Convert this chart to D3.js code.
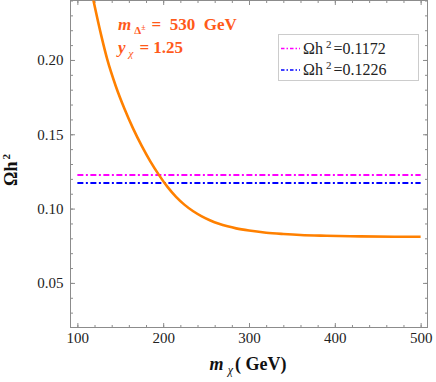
<!DOCTYPE html>
<html>
<head>
<meta charset="utf-8">
<script src="https://cdn.jsdelivr.net/npm/d3@7"></script>
<style>
  body { margin: 0; background: #fff; }
  svg text { font-family: "Liberation Serif", "DejaVu Serif", "Times New Roman", serif; }
</style>
</head>
<body>
<div id="chart"></div>
<script>
// relic density vs dark matter mass
const massX = [118, 128, 135, 145, 155, 165, 175, 185, 195, 205, 215, 225, 235, 245, 255,
  265, 275, 285, 300, 320, 340, 360, 390, 430, 470, 500];
const omegaH2 = [0.2420, 0.2160, 0.2000, 0.1820, 0.1670, 0.1538, 0.1422, 0.1318, 0.1227,
  0.1146, 0.1079, 0.1025, 0.0982, 0.0948, 0.0920, 0.0898, 0.0881, 0.0867, 0.0852, 0.0838,
  0.0829, 0.0822, 0.0817, 0.0813, 0.0811, 0.0811];

// horizontal reference lines (as drawn) and their legend text
const levelValues = [0.1226, 0.1172];
const levelColors = ["#ff00ff", "#0000ff"];
const legendValues = ["0.1172", "0.1226"];
const levelRange = [100, 500];

const xTicks = [100, 200, 300, 400, 500];
const yTicks = [0.05, 0.10, 0.15, 0.20];
const xMinor = d3.range(100, 501, 20);
const yMinor = d3.range(0.03, 0.2401, 0.01);

const W = 436, H = 382;
const margin = { top: 0.5, right: 8.5, bottom: 54.5, left: 70.5 };
const plotW = W - margin.left - margin.right;
const plotH = H - margin.top - margin.bottom;
const serif = '"Liberation Serif", "DejaVu Serif", "Times New Roman", serif';

const svg = d3.select("#chart").append("svg")
  .attr("width", W)
  .attr("height", H);

const x = d3.scaleLinear().domain([92, 508]).range([margin.left, margin.left + plotW]);
const y = d3.scaleLinear().domain([0.02, 0.24]).range([margin.top + plotH, margin.top]);

const frameColor = "#8c8c8c";

function styleAxis(g) {
  g.attr("font-family", null);
  g.select(".domain").remove();
  g.selectAll("line").attr("stroke", frameColor);
  g.selectAll("text")
    .style("font-family", serif)
    .attr("font-size", 15)
    .attr("fill", "#222");
}

// bottom
svg.append("g").attr("transform", `translate(0,${margin.top + plotH})`)
  .call(d3.axisBottom(x).tickValues(xMinor).tickSize(-2.5).tickFormat(""))
  .call(styleAxis);
svg.append("g").attr("transform", `translate(0,${margin.top + plotH})`)
  .call(d3.axisBottom(x).tickValues(xTicks).tickSize(-4.5).tickPadding(5).tickFormat(d3.format("d")))
  .call(styleAxis);
// top
svg.append("g").attr("transform", `translate(0,${margin.top})`)
  .call(d3.axisTop(x).tickValues(xMinor).tickSize(-2.5).tickFormat(""))
  .call(styleAxis);
svg.append("g").attr("transform", `translate(0,${margin.top})`)
  .call(d3.axisTop(x).tickValues(xTicks).tickSize(-4.5).tickFormat(""))
  .call(styleAxis);
// left
svg.append("g").attr("transform", `translate(${margin.left},0)`)
  .call(d3.axisLeft(y).tickValues(yMinor).tickSize(-2.5).tickFormat(""))
  .call(styleAxis);
svg.append("g").attr("transform", `translate(${margin.left},0)`)
  .call(d3.axisLeft(y).tickValues(yTicks).tickSize(-4.5).tickPadding(7).tickFormat(d3.format(".2f")))
  .call(styleAxis);
// right
svg.append("g").attr("transform", `translate(${margin.left + plotW},0)`)
  .call(d3.axisRight(y).tickValues(yMinor).tickSize(-2.5).tickFormat(""))
  .call(styleAxis);
svg.append("g").attr("transform", `translate(${margin.left + plotW},0)`)
  .call(d3.axisRight(y).tickValues(yTicks).tickSize(-4.5).tickFormat(""))
  .call(styleAxis);

// frame
svg.append("rect")
  .attr("x", margin.left).attr("y", margin.top)
  .attr("width", plotW).attr("height", plotH)
  .attr("fill", "none")
  .attr("stroke", frameColor)
  .attr("stroke-width", 1);

svg.append("clipPath").attr("id", "clip")
  .append("rect")
  .attr("x", margin.left).attr("y", margin.top)
  .attr("width", plotW).attr("height", plotH);

const plot = svg.append("g").attr("clip-path", "url(#clip)");

// reference lines
levelValues.forEach((v, i) => {
  plot.append("line")
    .attr("x1", x(levelRange[0])).attr("x2", x(levelRange[1]))
    .attr("y1", y(v)).attr("y2", y(v))
    .attr("stroke", levelColors[i])
    .attr("stroke-width", 2)
    .attr("stroke-dasharray", "6,2.5,2,2.5");
});

// curve
plot.append("path")
  .datum(massX.map((m, i) => [m, omegaH2[i]]))
  .attr("fill", "none")
  .attr("stroke", "#ff8000")
  .attr("stroke-width", 2.6)
  .attr("d", d3.line().x(d => x(d[0])).y(d => y(d[1])).curve(d3.curveMonotoneX));

// annotation
const annColor = "#ff5a1a";
const ann1 = svg.append("text")
  .attr("x", 118).attr("y", 30)
  .style("font-family", serif)
  .attr("fill", annColor).attr("font-size", 17).attr("font-weight", "bold");
ann1.append("tspan").attr("font-style", "italic").text("m");
ann1.append("tspan").attr("font-size", 11).attr("dy", 4).attr("dx", 3).text("Δ");
ann1.append("tspan").attr("font-size", 8).attr("dy", -4).text("±");
ann1.append("tspan").attr("dx", 6).attr("dy", 0).attr("xml:space", "preserve").text("=  530  GeV");

const ann2 = svg.append("text")
  .attr("x", 118).attr("y", 53)
  .style("font-family", serif)
  .attr("fill", annColor).attr("font-size", 17).attr("font-weight", "bold");
ann2.append("tspan").attr("font-style", "italic").text("y");
ann2.append("tspan").attr("font-size", 11).attr("font-style", "italic").attr("font-weight", "normal")
  .attr("dy", 4).attr("dx", 3).text("χ");
ann2.append("tspan").attr("dx", 6).attr("dy", -4).text("=  1.25");

// legend
const legend = svg.append("g");
legend.append("rect")
  .attr("x", 278.5).attr("y", 34.5)
  .attr("width", 140).attr("height", 46)
  .attr("fill", "#fff")
  .attr("stroke", "#cccccc");
legendValues.forEach((lab, i) => {
  const ly = 48.5 + i * 21.5;
  legend.append("line")
    .attr("x1", 281).attr("x2", 300)
    .attr("y1", ly).attr("y2", ly)
    .attr("stroke", levelColors[i])
    .attr("stroke-width", 1.6)
    .attr("stroke-dasharray", "3.5,2,1.5,2");
  const t = legend.append("text")
    .attr("x", 303).attr("y", ly + 5)
    .style("font-family", serif)
    .attr("font-size", 16).attr("fill", "#222");
  t.append("tspan").text("Ωh");
  t.append("tspan").attr("font-size", 11).attr("dx", 3).attr("dy", -6).text("2");
  t.append("tspan").attr("dy", 6).attr("dx", 2).text("=" + lab);
});

// axis titles
const xt = svg.append("text")
  .attr("x", 248).attr("y", 370)
  .attr("text-anchor", "middle")
  .style("font-family", serif)
  .attr("font-size", 18).attr("font-weight", "bold").attr("fill", "#111");
xt.append("tspan").attr("font-style", "italic").text("m");
xt.append("tspan").attr("font-size", 12).attr("font-style", "italic").attr("font-weight", "normal")
  .attr("dx", 4).attr("dy", 4).text("χ");
xt.append("tspan").attr("dy", -4).attr("dx", 2).text("( GeV)");

const yt = svg.append("text")
  .attr("transform", "translate(17,170) rotate(-90)")
  .attr("text-anchor", "middle")
  .style("font-family", serif)
  .attr("font-size", 18).attr("font-weight", "bold").attr("fill", "#111");
yt.append("tspan").text("Ωh");
yt.append("tspan").attr("font-size", 11).attr("dx", 2).attr("dy", -7).text("2");
</script>
</body>
</html>
